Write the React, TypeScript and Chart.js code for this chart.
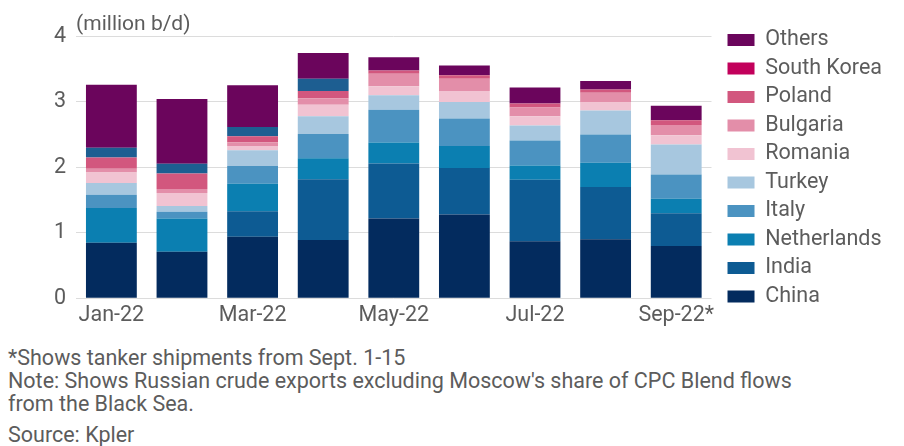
import React, { useEffect, useRef } from "react";
import { Chart, registerables } from "chart.js";

Chart.register(...registerables);

const months = ["Jan-22", "Feb-22", "Mar-22", "Apr-22", "May-22", "Jun-22", "Jul-22", "Aug-22", "Sep-22*"];

const china = [0.85, 0.71, 0.94, 0.89, 1.22, 1.28, 0.87, 0.9, 0.8];
const india = [0, 0, 0.39, 0.93, 0.84, 0.71, 0.94, 0.8, 0.5];
const netherlands = [0.53, 0.51, 0.42, 0.32, 0.32, 0.335, 0.22, 0.37, 0.22];
const italy = [0.2, 0.1, 0.27, 0.37, 0.5, 0.42, 0.38, 0.43, 0.37];
const turkey = [0.18, 0.09, 0.24, 0.27, 0.22, 0.255, 0.23, 0.37, 0.46];
const romania = [0.16, 0.2, 0.065, 0.175, 0.14, 0.165, 0.14, 0.12, 0.14];
const bulgaria = [0.06, 0.06, 0.06, 0.1, 0.19, 0.19, 0.135, 0.15, 0.155];
const poland = [0.17, 0.235, 0.09, 0.11, 0.05, 0.05, 0.06, 0.05, 0.075];
const southKorea = [0.15, 0.15, 0.14, 0.19, 0, 0, 0, 0, 0];
const others = [0.96, 0.99, 0.64, 0.39, 0.2, 0.15, 0.245, 0.13, 0.22];

const yTicks = [0, 1, 2, 3, 4];

const series = [
  { label: "China", data: china, color: "#032b5e", legend: "#032b5e" },
  { label: "India", data: india, color: "#0d5b93", legend: "#0d5b93" },
  { label: "Netherlands", data: netherlands, color: "#0b7fb1", legend: "#0b7fb1" },
  { label: "Italy", data: italy, color: "#4b93c1", legend: "#4b93c1" },
  { label: "Turkey", data: turkey, color: "#a7c7df", legend: "#a7c7df" },
  { label: "Romania", data: romania, color: "#f1c3d2", legend: "#f1c3d2" },
  { label: "Bulgaria", data: bulgaria, color: "#e38ea9", legend: "#e38ea9" },
  { label: "Poland", data: poland, color: "#d2577e", legend: "#d2577e" },
  { label: "South Korea", data: southKorea, color: "#1d5e91", legend: "#c2005b" },
  { label: "Others", data: others, color: "#6b055c", legend: "#6b055c" },
];

const FONT = "Roboto";
const TEXT = "#5c5c5c";

export default function App() {
  const ref = useRef<HTMLCanvasElement | null>(null);

  useEffect(() => {
    if (!ref.current) return;
    const shiftLegend = {
      id: "shiftLegend",
      afterLayout(chart: any) {
        const lg = chart.legend;
        if (lg) {
          lg.left += 9;
          lg.right += 9;
        }
      },
    };
    const chart = new Chart(ref.current, {
      type: "bar",
      data: {
        labels: months,
        datasets: series.map((s) => ({
          label: s.label,
          data: s.data,
          backgroundColor: s.color,
          borderWidth: 0,
          categoryPercentage: 1,
          barPercentage: 0.72,
        })),
      },
      options: {
        responsive: false,
        animation: false,
        devicePixelRatio: 1,
        layout: { padding: { top: 22.25, bottom: 0.9, left: 44, right: 21 } },
        plugins: {
          tooltip: { enabled: false },
          title: {
            display: true,
            text: "(million b/d)",
            align: "start",
            fullSize: false,
            color: TEXT,
            font: { family: FONT, size: 21, weight: "normal" },
            padding: { top: -9.85, bottom: -1.2 },
          },
          legend: {
            position: "right",
            align: "start",
            reverse: true,
            labels: {
              boxWidth: 27,
              boxHeight: 12,
              padding: 7,
              color: TEXT,
              font: { family: FONT, size: 21.5 },
              generateLabels: (chart: any) => {
                const items = Chart.defaults.plugins.legend.labels.generateLabels(chart);
                return items.map((it: any) => ({
                  ...it,
                  fillStyle: series[it.datasetIndex].legend,
                  strokeStyle: series[it.datasetIndex].legend,
                  lineWidth: 0,
                }));
              },
            },
          },
        },
        scales: {
          x: {
            stacked: true,
            grid: { display: false, drawTicks: false },
            border: { display: false },
            ticks: {
              autoSkip: false,
              maxRotation: 0,
              padding: 4,
              color: TEXT,
              font: { family: FONT, size: 21.5 },
              callback: (_v: any, i: number) => (i % 2 === 0 ? months[i] : ""),
            },
          },
          y: {
            stacked: true,
            min: yTicks[0],
            max: yTicks[yTicks.length - 1],
            grid: { color: "#dcdcdc", lineWidth: 1, drawTicks: false },
            border: { display: false },
            ticks: {
              stepSize: 1,
              padding: 10,
              color: TEXT,
              font: { family: FONT, size: 21.5 },
            },
          },
        },
      },
      plugins: [shiftLegend],
    });
    return () => chart.destroy();
  }, []);

  const noteStyle: React.CSSProperties = {
    position: "absolute",
    left: 8,
    fontFamily: FONT,
    fontSize: 21.5,
    lineHeight: "23px",
    color: TEXT,
    whiteSpace: "nowrap",
  };

  return (
    <div style={{ position: "fixed", left: 0, top: 0, width: 904, height: 446, background: "#fff", overflow: "hidden" }}>
      <canvas ref={ref} width={904} height={333} style={{ position: "absolute", left: 0, top: 0, width: 904, height: 333 }} />
      <div style={{ ...noteStyle, top: 345.5 }}>
        <div>*Shows tanker shipments from Sept. 1-15</div>
        <div>Note: Shows Russian crude exports excluding Moscow's share of CPC Blend flows</div>
        <div>from the Black Sea.</div>
      </div>
      <div style={{ ...noteStyle, top: 422.5 }}>Source: Kpler</div>
    </div>
  );
}
